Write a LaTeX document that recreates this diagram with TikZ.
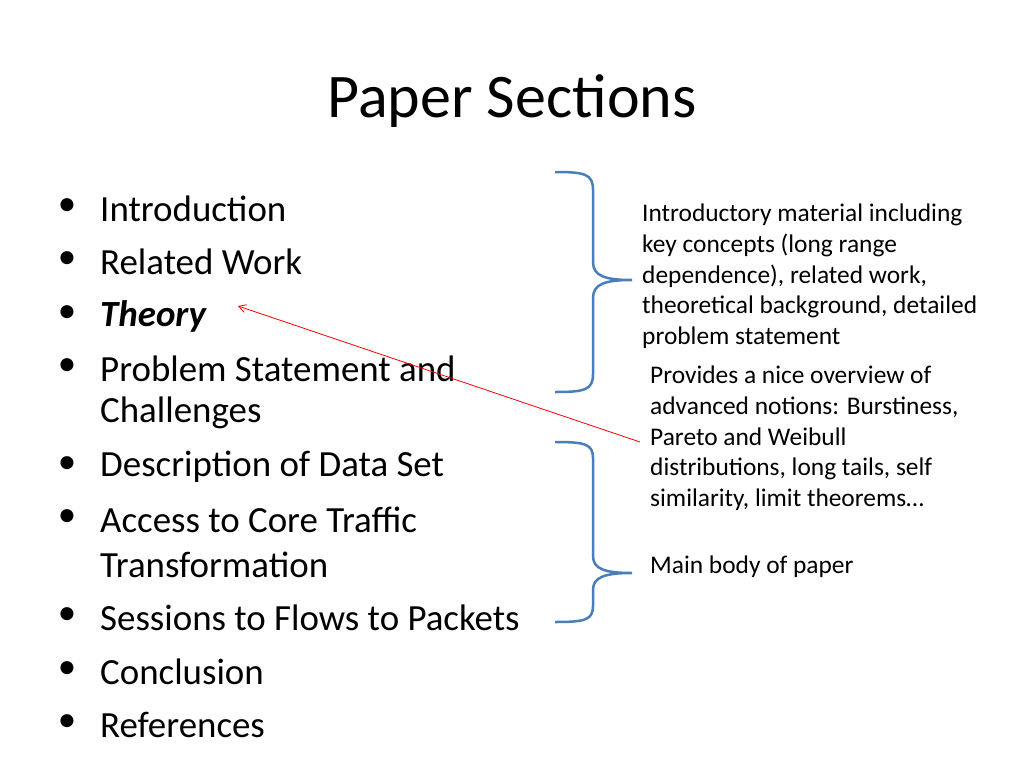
\documentclass[tikz,border=0pt]{standalone}
\usepackage{fontspec}
\setmainfont{Carlito}
\usetikzlibrary{arrows.meta}
\begin{document}
\begin{tikzpicture}[x=1pt,y=-1pt,
  bul/.style={anchor=west,font=\fontsize{36.9}{44}\selectfont,align=left,inner sep=0},
  note/.style={anchor=north west,font=\fontsize{25.4}{30.6}\selectfont,align=left,inner sep=0},
  brace/.style={line width=2.5pt,color={rgb,255:red,74;green,126;blue,187}}]
\useasboundingbox (0,0) rectangle (1024,768);
\node[font=\fontsize{62}{70}\selectfont,inner sep=0] (title) at (512,101) {Paper Sections};
\foreach \y/\t [count=\i] in {209/Introduction,262/Related Work,316/\textbf{\textit{Theory}},369/Problem Statement and,467/Description of Data Set,520/Access to Core Traffic,618/Sessions to Flows to Packets,672/Conclusion,725/References}{
  \node[bul] (b\i) at (100,\y) {\t};
  \node[font=\fontsize{36.9}{44}\selectfont,inner sep=0] (d\i) at (67,\y-2) {•};
}
\node[bul] (c1) at (100,413) {Challenges};
\node[bul] (c2) at (100,565) {Transformation};
\node[note] (n1) at (642,204) {Introductory material including\\key concepts (long range\\dependence), related work,\\theoretical background, detailed\\problem statement};
\node[note] (n2) at (650,366) {Provides a nice overview of\\advanced notions: Burstiness,\\Pareto and Weibull\\distributions, long tails, self\\similarity, limit theorems…};
\node[note] (n3) at (650,556) {Main body of paper};
\draw[brace] (555,172) .. controls (585,172) and (593,174) .. (593,190) -- (593,262)
  .. controls (593,276) and (605,280) .. (632,280) coordinate (t1)
  .. controls (605,280) and (593,284) .. (593,298) -- (593,374)
  .. controls (593,390) and (585,392) .. (555,392);
\draw[brace] (555,442) .. controls (585,442) and (593,444) .. (593,458) -- (593,556)
  .. controls (593,569) and (605,573) .. (632,573) coordinate (t2)
  .. controls (605,573) and (593,577) .. (593,590) -- (593,606)
  .. controls (593,620) and (585,622) .. (555,622);
\coordinate (a0) at (640,442);
\draw[red,line width=0.8pt,-{Straight Barb[length=7pt,width=8pt]}] (a0) -- (238,306) coordinate (a1);
\end{tikzpicture}
\end{document}
